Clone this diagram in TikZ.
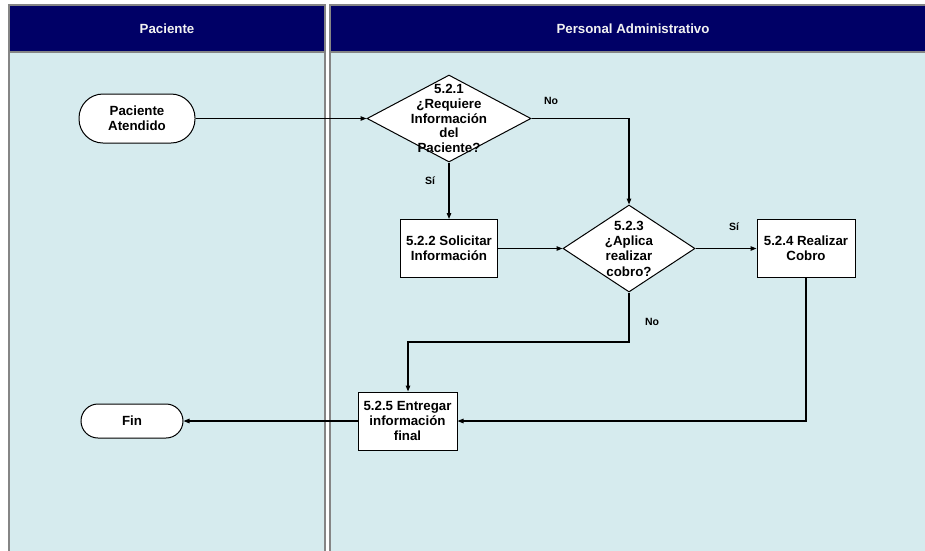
\documentclass[tikz,border=0pt]{standalone}
\usepackage{fontspec}
\setmainfont{Liberation Sans}
\usetikzlibrary{shapes.geometric,arrows.meta}
\definecolor{lanehead}{HTML}{000066}
\definecolor{lanebody}{HTML}{D6EBEE}
\definecolor{laneline}{HTML}{858585}
\definecolor{headtext}{HTML}{F2F2F2}
\begin{document}
\begin{tikzpicture}[x=1pt,y=-1pt,
  txt/.style={font=\bfseries\fontsize{13.3}{14.6}\selectfont, align=center, inner sep=0pt},
  headtxt/.style={font=\bfseries\fontsize{13.3}{14.6}\selectfont, text=headtext},
  small/.style={font=\bfseries\fontsize{10.5}{12}\selectfont, inner sep=0pt},
  process/.style={draw=black, fill=white, line width=1pt, txt, minimum width=98pt, minimum height=58pt},
  terminal/.style={draw=black, fill=white, line width=1pt, txt},
  decision/.style={diamond, draw=black, fill=white, line width=1pt, inner sep=0pt},
  flow/.style={draw=black, line width=1.2pt},
  arr/.style={flow, -{Triangle[length=6pt,width=4.5pt]}}
]
\useasboundingbox (0,0) rectangle (925,550);

% swimlanes
\fill[lanebody] (9,52) rectangle (325,552);
\fill[lanehead] (9,5) rectangle (325,52);
\draw[laneline, line width=1.5pt] (9,552) -- (9,5) -- (325,5) -- (325,552);
\draw[laneline, line width=1.5pt] (9,52) -- (325,52);
\fill[lanebody] (330,52) rectangle (935,552);
\fill[lanehead] (330,5) rectangle (935,52);
\draw[laneline, line width=1.5pt] (330,552) -- (330,5) -- (935,5);
\draw[laneline, line width=1.5pt] (330,52) -- (935,52);
\node[headtxt] (lane1) at (167,29) {Paciente};
\node[headtxt] (lane2) at (633,29) {Personal Administrativo};

% start / end
\node[terminal, minimum width=116pt, minimum height=49pt, rounded corners=24pt] (start) at (137,118.5) {Paciente\\Atendido};
\node[terminal, minimum width=102pt, minimum height=34pt, rounded corners=17pt] (fin) at (132,421) {Fin};

% decisions
\node[decision, minimum width=164pt, minimum height=87pt] (d1) at (449,118.5) {};
\node[txt] (d1t) at (449,118.5) {5.2.1\\¿Requiere\\Información\\del\\Paciente?};
\node[decision, minimum width=132pt, minimum height=87pt] (d3) at (629,248.5) {};
\node[txt, font=\bfseries\fontsize{13.3}{15.3}\selectfont] (d3t) at (629,248.5) {5.2.3\\¿Aplica\\realizar\\cobro?};

% processes
\node[process, minimum width=97pt] (b2) at (449,248.5) {5.2.2 Solicitar\\Información};
\node[process] (b4) at (806,248.5) {5.2.4 Realizar\\Cobro};
\node[process, minimum width=99pt, font=\bfseries\fontsize{13.3}{15}\selectfont] (b5) at (407.5,421) {5.2.5 Entregar\\información\\final};

% connectors
\coordinate (turn) at (408,342);
\draw[arr] (start.east) -- (d1.west);
\draw[arr] (d1.east) -| (d3.north);
\draw[arr] (d1.south) -- (b2.north);
\draw[arr] (b2.east) -- (d3.west);
\draw[arr] (d3.east) -- (b4.west);
\draw[arr] (b4.south) |- (b5.east);
\draw[arr] (d3.south) -- (d3.south |- turn) -- (turn) -- (b5.north -| turn);
\draw[arr] (b5.west) -- (fin.east);

% branch labels
\node[small] (no1) at (551,101) {No};
\node[small] (si1) at (430,181) {Sí};
\node[small] (si2) at (734,227) {Sí};
\node[small] (no2) at (652,322) {No};
\end{tikzpicture}
\end{document}
